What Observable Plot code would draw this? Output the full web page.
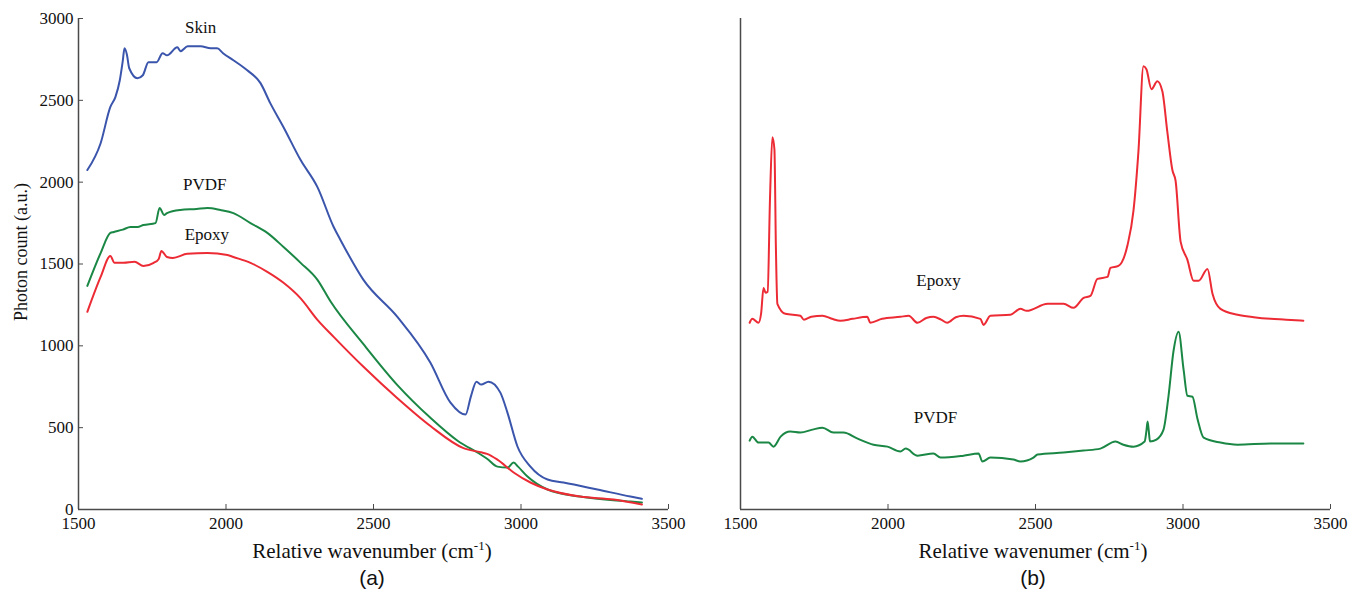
<!DOCTYPE html>
<html>
<head>
<meta charset="utf-8">
<script src="https://cdn.jsdelivr.net/npm/d3@7"></script>
<script src="https://cdn.jsdelivr.net/npm/@observablehq/plot@0.6"></script>
<style>
  html, body { margin: 0; padding: 0; background: #fff; }
  #wrap { position: relative; width: 1356px; height: 595px; overflow: hidden; font-family: "Liberation Serif", "Times New Roman", serif; }
  .panel { position: absolute; top: 0; }
  .panel svg { overflow: visible; }
  .ttl { position: absolute; font-family: "Liberation Serif", serif; font-size: 21px; color: #111; white-space: nowrap; transform: translateX(-50%); }
  .ttl sup { font-size: 13px; }
  .ylab { position: absolute; font-family: "Liberation Serif", serif; font-size: 18px; color: #111; white-space: nowrap; transform: translate(-50%, -50%) rotate(-90deg); }
  .tag { position: absolute; font-family: "Liberation Sans", Arial, sans-serif; font-size: 21px; color: #111; transform: translateX(-50%); }
</style>
</head>
<body>
<div id="wrap">
  <div id="pa" class="panel" style="left:0px"></div>
  <div id="pb" class="panel" style="left:678px"></div>
  <div class="ylab" style="left:21px; top:252px">Photon count (a.u.)</div>
  <div class="ttl" style="left:372px; top:538px">Relative wavenumber (cm<sup>-1</sup>)</div>
  <div class="ttl" style="left:1033px; top:538px">Relative wavenumer (cm<sup>-1</sup>)</div>
  <div class="tag" style="left:372px; top:566px">(a)</div>
  <div class="tag" style="left:1033px; top:566px">(b)</div>
</div>
<script>
// ---- data (x = relative wavenumber, y = photon count) ----
const xDomain = [1500, 3500];
const yDomain = [0, 3000];
const xTicks = [1500, 2000, 2500, 3000, 3500];
const yTicks = [0, 500, 1000, 1500, 2000, 2500, 3000];

// Panel (a)
const skinA = [[1530,2074],[1575,2238],[1608,2460],[1625,2520],[1640,2623],[1650,2740],[1656,2818],[1664,2780],[1672,2696],[1700,2635],[1718,2653],[1737,2733],[1765,2733],[1785,2788],[1800,2775],[1835,2824],[1846,2800],[1870,2830],[1914,2830],[1948,2818],[1970,2818],[1990,2788],[2025,2745],[2072,2684],[2117,2605],[2150,2483],[2195,2336],[2253,2135],[2310,1970],[2365,1726],[2388,1647],[2466,1403],[2581,1177],[2693,897],[2761,653],[2812,580],[2830,690],[2849,781],[2865,763],[2890,781],[2930,714],[2954,592],[2988,385],[3032,262],[3090,183],[3144,165],[3259,122],[3371,79],[3410,65]];
const pvdfA = [[1530,1366],[1575,1567],[1608,1690],[1620,1696],[1650,1710],[1676,1726],[1700,1726],[1720,1738],[1761,1750],[1775,1842],[1790,1800],[1800,1811],[1845,1830],[1900,1836],[1937,1842],[1981,1830],[2025,1811],[2083,1750],[2140,1690],[2195,1604],[2253,1507],[2310,1403],[2354,1272],[2466,1010],[2581,760],[2693,560],[2785,420],[2863,336],[2885,310],[2920,262],[2954,256],[2975,287],[2990,262],[3022,201],[3090,122],[3200,79],[3371,49],[3410,43]];
const epoxyA = [[1530,1208],[1575,1421],[1608,1549],[1622,1507],[1653,1507],[1690,1513],[1720,1488],[1755,1507],[1772,1531],[1781,1580],[1800,1543],[1820,1537],[1869,1562],[1937,1567],[2005,1555],[2025,1543],[2083,1507],[2140,1452],[2195,1385],[2253,1290],[2310,1159],[2365,1055],[2466,872],[2581,680],[2693,510],[2805,375],[2868,348],[2885,340],[2920,305],[2975,226],[3032,165],[3090,122],[3200,79],[3314,61],[3410,30]];

// Panel (b) (arbitrary units, offset spectra)
const epoxyB = [[1531,1141],[1540,1165],[1561,1141],[1570,1200],[1578,1354],[1585,1324],[1592,1330],[1600,1900],[1608,2275],[1615,2200],[1620,1600],[1625,1257],[1652,1196],[1703,1184],[1715,1160],[1740,1178],[1778,1184],[1810,1165],[1839,1153],[1880,1165],[1930,1177],[1940,1141],[1980,1165],[2042,1177],[2070,1184],[2100,1141],[2130,1170],[2154,1177],[2180,1160],[2201,1141],[2230,1175],[2256,1184],[2313,1165],[2324,1128],[2347,1184],[2415,1190],[2449,1226],[2470,1214],[2541,1257],[2595,1257],[2629,1232],[2663,1293],[2686,1305],[2710,1409],[2744,1421],[2754,1476],[2781,1488],[2812,1616],[2832,1824],[2849,2190],[2866,2708],[2876,2690],[2893,2568],[2913,2617],[2930,2556],[2947,2306],[2964,2074],[2975,2007],[2992,1635],[3015,1525],[3036,1397],[3053,1397],[3083,1470],[3100,1318],[3127,1226],[3185,1190],[3240,1175],[3297,1165],[3350,1160],[3408,1153]];
const pvdfB = [[1531,421],[1540,445],[1561,409],[1595,409],[1612,384],[1636,445],[1669,476],[1703,470],[1744,488],[1778,500],[1815,470],[1849,470],[1897,433],[1951,396],[1998,384],[2042,354],[2060,372],[2100,329],[2154,342],[2178,317],[2256,329],[2307,342],[2320,293],[2347,317],[2425,305],[2449,293],[2493,317],[2507,336],[2595,348],[2663,360],[2720,372],[2771,415],[2798,396],[2832,384],[2870,415],[2876,480],[2880,537],[2884,480],[2888,415],[2910,427],[2934,488],[2951,695],[2968,970],[2985,1086],[3002,854],[3015,695],[3032,689],[3049,555],[3070,439],[3127,409],[3185,396],[3297,403],[3408,403]];

// Series labels
const labelsA = [{t:"Skin", x:1914, y:2946}, {t:"PVDF", x:1928, y:1983}, {t:"Epoxy", x:1935, y:1678}];
const labelsB = [{t:"Epoxy", x:2171, y:1397}, {t:"PVDF", x:2161, y:561}];

const colors = {skin: "#3a55ab", pvdf: "#1b8745", epoxy: "#ec2b35"};
const axisColor = "#4a4a4a";

function lineOf(data, color) {
  return Plot.line(data, {x: d => d[0], y: d => d[1], stroke: color, strokeWidth: 2, curve: "monotone-x"});
}

const blank = () => "";
const xAxisMarks = [
  // labels
  Plot.axisX({ticks: xTicks, tickSize: 0, tickPadding: 7, tickFormat: d => String(d), label: null, fontSize: 17}),
  // inward tick marks
  Plot.axisX({ticks: xTicks, tickSize: 5, dy: -5, tickFormat: blank, label: null, stroke: axisColor})
];

const common = {
  height: 540,
  marginTop: 18,
  marginBottom: 31,
  x: {domain: xDomain},
  style: {fontFamily: "Liberation Serif, serif", fontSize: "17px", color: "#111", background: "transparent", overflow: "visible"}
};

const plotA = Plot.plot({
  ...common,
  width: 680,
  marginLeft: 78,
  marginRight: 12,
  y: {domain: yDomain},
  marks: [
    ...xAxisMarks,
    Plot.axisY({ticks: yTicks, tickSize: 0, tickPadding: 5, tickFormat: d => String(d), label: null, fontSize: 17}),
    Plot.axisY({ticks: yTicks, tickSize: 5, dx: 5, tickFormat: blank, label: null, stroke: axisColor}),
    Plot.ruleX([xDomain[0]], {stroke: axisColor, strokeWidth: 1.5}),
    Plot.ruleY([yDomain[0]], {stroke: axisColor, strokeWidth: 1.5}),
    lineOf(skinA, colors.skin),
    lineOf(pvdfA, colors.pvdf),
    lineOf(epoxyA, colors.epoxy),
    Plot.text(labelsA, {x: "x", y: "y", text: "t", fontSize: 17, fill: "#111"})
  ]
});

const plotB = Plot.plot({
  ...common,
  width: 678,
  marginLeft: 62,
  marginRight: 26,
  y: {domain: yDomain, axis: null},
  marks: [
    ...xAxisMarks,
    Plot.ruleX([xDomain[0]], {stroke: axisColor, strokeWidth: 1.5}),
    Plot.ruleY([yDomain[0]], {stroke: axisColor, strokeWidth: 1.5}),
    lineOf(epoxyB, colors.epoxy),
    lineOf(pvdfB, colors.pvdf),
    Plot.text(labelsB, {x: "x", y: "y", text: "t", fontSize: 17, fill: "#111"})
  ]
});

document.getElementById("pa").appendChild(plotA);
document.getElementById("pb").appendChild(plotB);
</script>
</body>
</html>
